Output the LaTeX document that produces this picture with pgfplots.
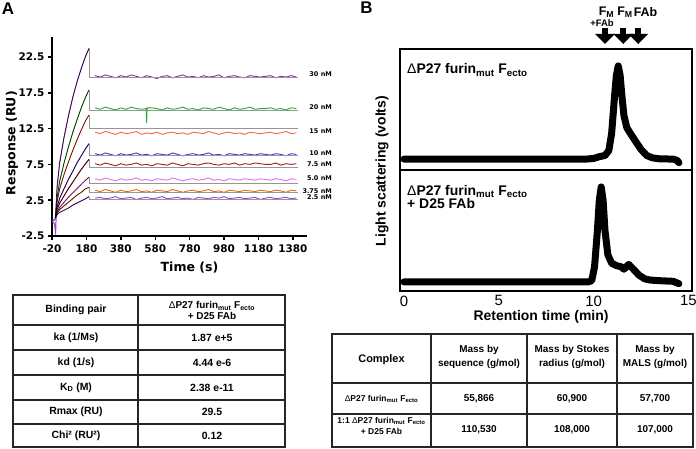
\documentclass[border=0pt]{standalone}
\usepackage{fontspec}
\setmainfont{Liberation Sans}
\newfontfamily\dv{DejaVu Sans}
\usepackage{pgfplots}
\pgfplotsset{compat=1.18}
\usetikzlibrary{arrows.meta}
\newcommand{\fs}[1]{\fontsize{#1}{#1}\selectfont}
\definecolor{c30}{RGB}{140,40,170}
\definecolor{c20}{RGB}{40,170,40}
\definecolor{c15}{RGB}{245,100,70}
\definecolor{c10}{RGB}{90,40,210}
\definecolor{c75}{RGB}{165,30,30}
\definecolor{c50}{RGB}{230,110,230}
\definecolor{c375}{RGB}{215,110,20}
\definecolor{c25}{RGB}{150,70,200}
\definecolor{fitgray}{RGB}{150,150,150}
\begin{document}
\begin{tikzpicture}[x=1bp,y=1bp]
\path[use as bounding box] (0,0) rectangle (696,449);
% ---------------- Panel A ----------------
\begin{axis}[at={(52bp,213bp)}, anchor=south west, scale only axis,
  width=254.7bp, height=199bp,
  xmin=-20, xmax=1460, ymin=-2.5, ymax=25.3,
  axis x line*=bottom, axis y line*=left,
  axis line style={line width=1.6bp,-},
  xtick={-20,180,380,580,780,980,1180,1380},
  xticklabels={-20,180,380,580,780,980,1180,1380},
  ytick={-2.5,2.5,7.5,12.5,17.5,22.5},
  yticklabels={-2.5,2.5,7.5,12.5,17.5,22.5},
  tick align=outside, major tick length=4bp,
  major tick style={line width=1.4bp,black},
  tick label style={font=\dv\bfseries\fs{10.5}},
  xticklabel style={yshift=-1.5bp},
  xlabel={Time (s)}, ylabel={Response (RU)},
  label style={font=\dv\bfseries\fs{12.6}},
  xlabel style={at={(axis description cs:0.54,-0.161)}, anchor=center},
  ylabel style={at={(axis description cs:-0.157,0.467)}, anchor=center},
  clip=false]
% association data
\addplot[c30, line width=1bp] coordinates {(-18,-0.2)(-5,-0.3)(0,0)(10,4.5)(25,7.8)(50,11.3)(75,14.2)(100,16.8)(125,19.0)(150,20.9)(175,22.6)(195,23.7)};
\addplot[c20, line width=1bp] coordinates {(0,0)(10,2.9)(25,5.2)(50,7.7)(75,9.9)(100,11.9)(125,13.7)(150,15.4)(175,16.9)(195,17.9)};
\addplot[c15, line width=1bp] coordinates {(0,0)(10,2.4)(25,4.1)(50,6.1)(75,7.8)(100,9.4)(125,10.9)(150,12.3)(175,13.6)(195,14.4)};
\addplot[c10, line width=1bp] coordinates {(0,0)(10,1.6)(25,2.8)(50,4.1)(75,5.4)(100,6.5)(125,7.7)(150,8.7)(175,9.7)(195,10.4)};
\addplot[c75, line width=1bp] coordinates {(0,0)(10,1.2)(25,2.1)(50,3.1)(75,4.1)(100,5.0)(125,5.9)(150,6.8)(175,7.6)(195,8.2)};
\addplot[c50, line width=1bp] coordinates {(0,0)(10,0.9)(25,1.5)(50,2.2)(75,2.9)(100,3.5)(125,4.1)(150,4.7)(175,5.3)(195,5.7)};
\addplot[c375, line width=1bp] coordinates {(0,0)(10,0.7)(25,1.2)(50,1.7)(75,2.2)(100,2.7)(125,3.2)(150,3.6)(175,4.1)(195,4.3)};
\addplot[c25, line width=1bp] coordinates {(-18,-0.4)(-5,-0.8)(1,-2.3)(4,0.1)(10,0.5)(25,0.8)(50,1.1)(75,1.4)(100,1.8)(125,2.1)(150,2.4)(175,2.7)(195,3.0)};
% dissociation data
\addplot[c30, line width=0.9bp] coordinates {(230,19.9)(260,19.7)(290,20.0)(320,19.8)(350,19.6)(380,19.9)(410,19.7)(440,20.0)(470,19.8)(500,19.6)(530,19.9)(560,19.7)(590,19.5)(620,19.8)(650,19.9)(680,19.6)(710,19.8)(740,20.0)(770,19.7)(800,19.8)(830,19.6)(860,19.9)(890,19.7)(920,19.8)(950,20.0)(980,19.6)(1010,19.8)(1040,19.9)(1070,19.7)(1100,19.6)(1130,19.9)(1160,19.8)(1190,19.7)(1220,19.8)(1250,19.9)(1280,19.6)(1310,19.8)(1340,19.7)(1370,19.9)(1400,19.7)};
\addplot[c20, line width=0.9bp] coordinates {(230,15.4)(260,15.2)(290,15.5)(320,15.3)(350,15.1)(380,15.4)(410,15.2)(440,15.5)(470,15.3)(500,15.2)(527,15.3)(530,13.3)(533,15.4)(560,15.4)(590,15.3)(620,15.1)(650,15.4)(680,15.2)(710,15.3)(740,15.5)(770,15.2)(800,15.3)(830,15.1)(860,15.4)(890,15.3)(920,15.2)(950,15.5)(980,15.3)(1010,15.1)(1040,15.4)(1070,15.2)(1100,15.3)(1130,15.5)(1160,15.2)(1190,15.3)(1220,15.3)(1250,15.4)(1280,15.2)(1310,15.3)(1340,15.1)(1370,15.4)(1400,15.3)};
\addplot[c15, line width=0.9bp] coordinates {(230,12.0)(260,11.8)(290,12.1)(320,11.9)(350,11.7)(380,12.0)(410,11.8)(440,11.9)(470,12.1)(500,11.7)(530,11.9)(560,11.8)(590,12.0)(620,11.7)(650,11.9)(680,12.0)(710,11.8)(740,11.9)(770,11.7)(800,12.0)(830,11.9)(860,11.8)(890,12.1)(920,11.9)(950,11.7)(980,11.9)(1010,12.0)(1040,11.8)(1070,11.9)(1100,11.7)(1130,12.0)(1160,11.9)(1190,11.8)(1220,11.9)(1250,12.0)(1280,11.8)(1310,11.9)(1340,12.1)(1370,11.8)(1400,11.9)};
\addplot[c10, line width=0.9bp] coordinates {(230,9.0)(260,8.8)(290,9.1)(320,8.9)(350,8.7)(380,9.0)(410,8.8)(440,8.9)(470,9.1)(500,8.8)(530,8.9)(560,8.7)(590,9.0)(620,8.9)(650,8.8)(680,9.1)(710,8.9)(740,8.7)(770,8.9)(800,9.0)(830,8.8)(860,8.9)(890,9.1)(920,8.8)(950,8.9)(980,8.7)(1010,9.0)(1040,8.9)(1070,8.8)(1100,9.0)(1130,8.9)(1160,8.8)(1190,9.0)(1220,8.9)(1250,8.8)(1280,9.0)(1310,8.9)(1340,8.7)(1370,9.0)(1400,8.9)};
\addplot[c75, line width=0.9bp] coordinates {(230,7.6)(260,7.4)(290,7.7)(320,7.5)(350,7.3)(380,7.6)(410,7.4)(440,7.5)(470,7.7)(500,7.4)(530,7.5)(560,7.3)(590,7.6)(620,7.5)(650,7.4)(680,7.7)(710,7.5)(740,7.3)(770,7.6)(800,7.5)(830,7.4)(860,7.6)(890,7.7)(920,7.5)(950,7.4)(980,7.6)(1010,7.5)(1040,7.7)(1070,7.4)(1100,7.6)(1130,7.5)(1160,7.7)(1190,7.6)(1220,7.5)(1250,7.5)(1280,7.7)(1310,7.4)(1340,7.6)(1370,7.5)(1400,7.6)};
\addplot[c50, line width=0.9bp] coordinates {(230,5.5)(260,5.3)(290,5.6)(320,5.4)(350,5.2)(380,5.5)(410,5.3)(440,5.4)(470,5.6)(500,5.3)(530,5.4)(560,5.2)(590,5.5)(620,5.4)(650,5.3)(680,5.6)(710,5.4)(740,5.2)(770,5.4)(800,5.5)(830,5.3)(860,5.4)(890,5.6)(920,5.3)(950,5.4)(980,5.2)(1010,5.5)(1040,5.4)(1070,5.3)(1100,5.5)(1130,5.4)(1160,5.3)(1190,5.5)(1220,5.4)(1250,5.3)(1280,5.5)(1310,5.4)(1340,5.2)(1370,5.5)(1400,5.4)};
\addplot[c375, line width=0.9bp] coordinates {(230,3.9)(260,3.7)(290,4.0)(320,3.8)(350,3.6)(380,3.9)(410,3.7)(440,3.8)(470,4.0)(500,3.7)(530,3.8)(560,3.6)(590,3.9)(620,3.8)(650,3.7)(680,4.0)(710,3.8)(740,3.6)(770,3.8)(800,3.9)(830,3.7)(860,3.8)(890,4.0)(920,3.7)(950,3.8)(980,3.6)(1010,3.9)(1040,3.8)(1070,3.7)(1100,3.9)(1130,3.8)(1160,3.7)(1190,3.9)(1220,3.8)(1250,3.7)(1280,3.9)(1310,3.8)(1340,3.6)(1370,3.9)(1400,3.8)};
\addplot[c25, line width=0.9bp] coordinates {(230,2.8)(260,2.9)(290,2.7)(320,2.8)(350,3.0)(380,2.7)(410,2.8)(440,2.9)(470,2.6)(500,2.8)(530,2.9)(560,2.7)(590,2.8)(620,3.0)(650,2.7)(680,2.8)(710,2.9)(740,2.7)(770,2.8)(800,2.6)(830,2.9)(860,2.8)(890,2.7)(920,2.9)(950,2.8)(980,3.0)(1010,2.7)(1040,2.8)(1070,2.9)(1100,2.7)(1130,2.8)(1160,2.9)(1190,2.6)(1220,2.8)(1250,2.9)(1280,2.7)(1310,2.8)(1340,2.9)(1370,2.7)(1400,2.8)};
% fits: association (black) and dissociation (gray)
\addplot[black, line width=0.4bp] coordinates {(0,0)(10,4.5)(25,7.8)(50,11.3)(75,14.2)(100,16.8)(125,19.0)(150,20.9)(175,22.6)(195,23.7)};
\addplot[black, line width=0.4bp] coordinates {(0,0)(10,2.9)(25,5.2)(50,7.7)(75,9.9)(100,11.9)(125,13.7)(150,15.4)(175,16.9)(195,17.9)};
\addplot[black, line width=0.4bp] coordinates {(0,0)(10,2.4)(25,4.1)(50,6.1)(75,7.8)(100,9.4)(125,10.9)(150,12.3)(175,13.6)(195,14.4)};
\addplot[black, line width=0.4bp] coordinates {(0,0)(10,1.6)(25,2.8)(50,4.1)(75,5.4)(100,6.5)(125,7.7)(150,8.7)(175,9.7)(195,10.4)};
\addplot[black, line width=0.4bp] coordinates {(0,0)(10,1.2)(25,2.1)(50,3.1)(75,4.1)(100,5.0)(125,5.9)(150,6.8)(175,7.6)(195,8.2)};
\addplot[black, line width=0.4bp] coordinates {(0,0)(10,0.9)(25,1.5)(50,2.2)(75,2.9)(100,3.5)(125,4.1)(150,4.7)(175,5.3)(195,5.7)};
\addplot[black, line width=0.4bp] coordinates {(0,0)(10,0.7)(25,1.2)(50,1.7)(75,2.2)(100,2.7)(125,3.2)(150,3.6)(175,4.1)(195,4.3)};
\addplot[black, line width=0.4bp] coordinates {(0,0)(10,0.5)(25,0.8)(50,1.1)(75,1.4)(100,1.8)(125,2.1)(150,2.4)(175,2.7)(195,3.0)};
\addplot[fitgray, line width=0.8bp] coordinates {(195,23.7)(195,19.6)(1410,19.6)};
\addplot[fitgray, line width=0.8bp] coordinates {(195,17.9)(195,15.1)(1410,15.1)};
\addplot[fitgray, line width=0.8bp] coordinates {(195,14.4)(195,12.5)(1410,12.5)};
\addplot[fitgray, line width=0.8bp] coordinates {(195,10.4)(195,8.8)(1410,8.8)};
\addplot[fitgray, line width=0.8bp] coordinates {(195,8.2)(195,7.1)(1410,7.1)};
\addplot[fitgray, line width=0.8bp] coordinates {(195,5.7)(195,4.9)(1410,4.9)};
\addplot[fitgray, line width=0.8bp] coordinates {(195,4.3)(195,3.6)(1410,3.6)};
\addplot[fitgray, line width=0.8bp] coordinates {(195,3.0)(195,2.6)(1410,2.6)};
\end{axis}
% concentration labels
\begin{scope}[every node/.style={anchor=east, inner sep=0pt, font=\dv\bfseries\fs{6.5}}]
\node at (332,375) {30 nM};
\node at (332,342) {20 nM};
\node at (332,318) {15 nM};
\node at (332,296) {10 nM};
\node at (332,285) {7.5 nM};
\node at (332,271) {5.0 nM};
\node at (332,258) {3.75 nM};
\node at (332,252) {2.5 nM};
\end{scope}
\node[inner sep=0pt, font=\bfseries\fs{17}] at (8,440) {A};
\node[inner sep=0pt, font=\bfseries\fs{17}] at (366.5,441) {B};
% ---------------- Table A ----------------
\begin{scope}[line width=1.6bp, draw=black!85]
\draw (13,154) rectangle (285,2);
\draw (138,154) -- (138,2);
\foreach \yy in {124,99,74,49,25} {\draw (13,\yy) -- (285,\yy);}
\end{scope}
\begin{scope}[every node/.style={inner sep=0pt, font=\bfseries\fs{10.5}}]
\node at (76,139) {Binding pair};
\node[font=\bfseries\fs{10}] at (212,143) {{\fontseries{m}\selectfont Δ}P27 furin\textsubscript{mut} F\textsubscript{ecto}};
\node[font=\bfseries\fs{10}] at (212,133) {+ D25 FAb};
\node at (76,111.5) {ka (1/Ms)};
\node at (212,111.5) {1.87 e+5};
\node at (76,86.5) {kd (1/s)};
\node at (212,86.5) {4.44 e-6};
\node at (76,61.5) {K\textsubscript{D} (M)};
\node at (212,61.5) {2.38 e-11};
\node at (76,37) {Rmax (RU)};
\node at (212,37) {29.5};
\node at (76,13.5) {Chi² (RU²)};
\node at (212,13.5) {0.12};
\end{scope}
% ---------------- Panel B plots ----------------
\begin{axis}[at={(400bp,279bp)}, anchor=south west, scale only axis,
  width=292bp, height=121bp, xmin=-0.21, xmax=15.19, ymin=0, ymax=1,
  xtick=\empty, ytick=\empty, axis line style={line width=2.6bp}, clip=false]
\addplot[black, line width=7bp, line join=round, line cap=round] coordinates {(0,0.09)(9.6,0.09)(10.0,0.095)(10.3,0.11)(10.6,0.12)(10.8,0.16)(10.95,0.30)(11.1,0.60)(11.2,0.78)(11.3,0.86)(11.4,0.78)(11.5,0.60)(11.6,0.45)(11.75,0.35)(11.95,0.30)(12.2,0.24)(12.5,0.17)(12.8,0.12)(13.1,0.10)(13.5,0.092)(14.2,0.09)(14.4,0.08)(14.5,0.06)};
\end{axis}
\begin{axis}[at={(400bp,158bp)}, anchor=south west, scale only axis,
  width=292bp, height=121bp, xmin=-0.21, xmax=15.19, ymin=0, ymax=1,
  xtick={0,5,10,15}, xticklabels={0,5,10,15}, ytick=\empty,
  major tick length=0pt,
  xticklabel style={font=\fs{15}, inner sep=0pt, yshift=-4.5bp},
  axis line style={line width=2.6bp}, clip=false,
  xlabel={Retention time (min)}, ylabel={Light scattering (volts)},
  label style={font=\bfseries\fs{14}},
  xlabel style={at={(axis description cs:0.483,-0.212)}, anchor=center},
  ylabel style={at={(axis description cs:-0.0616,0.99)}, anchor=center}]
\addplot[black, line width=7bp, line join=round, line cap=round] coordinates {(0,0.075)(9.7,0.075)(9.9,0.085)(10.05,0.2)(10.2,0.5)(10.3,0.75)(10.4,0.86)(10.5,0.75)(10.6,0.5)(10.75,0.3)(10.95,0.23)(11.2,0.21)(11.45,0.20)(11.6,0.18)(11.85,0.22)(12.1,0.18)(12.4,0.13)(12.7,0.10)(13.0,0.09)(13.5,0.085)(14.2,0.08)(14.5,0.06)};
\end{axis}
\node[anchor=west, inner sep=0pt, font=\bfseries\fs{14}] at (407,379) {{\fontseries{m}\selectfont Δ}P27 furin\textsubscript{mut} F\textsubscript{ecto}};
\node[anchor=north west, inner sep=0pt, align=left, font=\bfseries\fs{14}] at (407,264) {{\fontseries{m}\selectfont Δ}P27 furin\textsubscript{mut} F\textsubscript{ecto}\\[-1pt]+ D25 FAb};
% arrows and labels
\foreach \xx in {605,623.3,638.3} {
  \draw[black, line width=6bp, -{Triangle[width=19bp,length=10bp]}] (\xx,421) -- (\xx,405);
}
\node[inner sep=0pt, font=\bfseries\fs{12.5}] at (606.5,437) {F\textsubscript{M}};
\node[inner sep=0pt, font=\bfseries\fs{12.5}] at (625,437) {F\textsubscript{M}};
\node[inner sep=0pt, font=\bfseries\fs{12.5}] at (645.5,437) {FAb};
\node[inner sep=0pt, font=\bfseries\fs{9.5}] at (602,425.5) {+FAb};
% ---------------- Table B ----------------
\begin{scope}[line width=1.6bp, draw=black!85]
\draw (332,115) rectangle (693,2);
\foreach \xx in {431,527,617} {\draw (\xx,115) -- (\xx,2);}
\foreach \yy in {66,35} {\draw (332,\yy) -- (693,\yy);}
\end{scope}
\begin{scope}[every node/.style={inner sep=0pt, font=\bfseries\fs{10}}]
\node[font=\bfseries\fs{11}] at (381.5,89) {Complex};
\node[font=\bfseries\fs{8.5}] at (381.5,50) {{\fontseries{m}\selectfont Δ}P27 furin\textsubscript{mut} F\textsubscript{ecto}};
\node[font=\bfseries\fs{8.5}] at (381.5,28) {1:1 {\fontseries{m}\selectfont Δ}P27 furin\textsubscript{mut} F\textsubscript{ecto}};
\node[font=\bfseries\fs{8.5}] at (381.5,18) {+ D25 FAb};
\node at (479,99) {Mass by};
\node at (479,85) {sequence (g/mol)};
\node at (572,99) {Mass by Stokes};
\node at (572,85) {radius (g/mol)};
\node at (655,99) {Mass by};
\node at (655,85) {MALS (g/mol)};
\node at (479,50) {55,866};
\node at (572,50) {60,900};
\node at (655,50) {57,700};
\node at (479,19) {110,530};
\node at (572,19) {108,000};
\node at (655,19) {107,000};
\end{scope}
\end{tikzpicture}
\end{document}
